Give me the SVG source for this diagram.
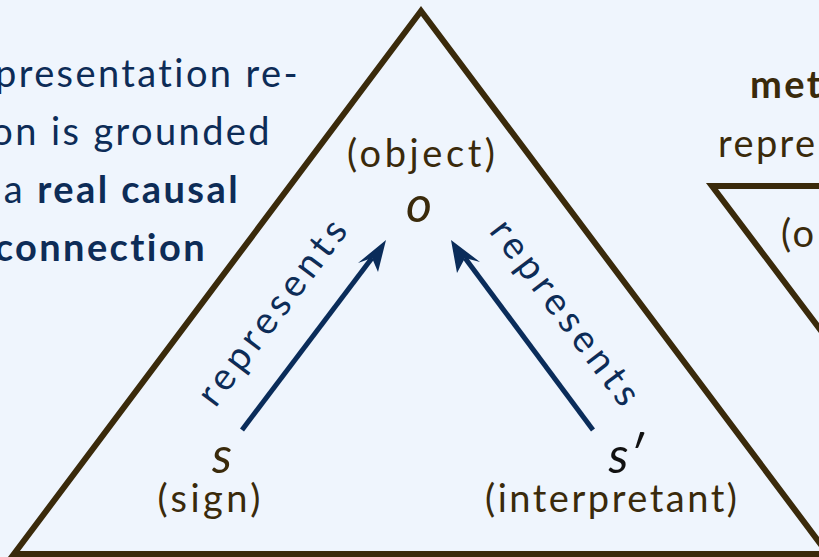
<svg xmlns="http://www.w3.org/2000/svg" width="819" height="557" viewBox="0 0 819 557">
<style>
.bg{fill:#eff5fd}
.tri{fill:none;stroke:#3a2a0b;stroke-width:6;stroke-linejoin:miter}
.para{font-family:Lato,"Liberation Sans",sans-serif;font-size:38px;letter-spacing:2.4px;fill:#0d2c57}
.b{font-weight:bold}
.brown{fill:#3a2a0b}
.lbl{font-family:Lato,"Liberation Sans",sans-serif;font-size:38px;fill:#3a2a0b;text-anchor:middle}
.var{font-family:Lato,"Liberation Sans",sans-serif;font-size:50px;font-style:italic;fill:#3a2a0b;text-anchor:middle}
.rep{font-family:Lato,"Liberation Sans",sans-serif;font-size:38px;fill:#0d2c57;text-anchor:middle}
.arr{stroke:#0a2c5a;stroke-width:5;fill:none}
.head{fill:#0a2c5a}
</style>
<rect class="bg" x="0" y="0" width="819" height="557"/>
<g id="text-left">
<text class="para" x="300" y="87" text-anchor="end">presentation re-</text>
<text class="para" x="272" y="145" text-anchor="end">on is grounded</text>
<text class="para" x="240" y="203" text-anchor="end">a <tspan class="b">real causal</tspan></text>
<text class="para b" x="207" y="261" text-anchor="end">connection</text>
</g>
<g id="triangle">
<polygon class="tri" points="421,11 14,554 828,554"/>
</g>
<g id="triangle-right">
<polygon class="tri" points="712,186 1530,186 1121,729"/>
<text class="para b brown" x="750" y="98">met</text>
<text class="para brown" x="718" y="157">repre</text>
<text class="para brown" x="781" y="247">(o</text>
</g>
<g id="node-object">
<text class="lbl" x="421" y="167" textLength="148">(object)</text>
<text class="var" x="419" y="222">o</text>
</g>
<g id="node-sign">
<text class="var" x="222" y="473">s</text>
<text class="lbl" x="209" y="512" textLength="103">(sign)</text>
</g>
<g id="node-interpretant">
<text class="var" x="626" y="473" style="fill:#111">s′</text>
<text class="lbl" x="611" y="512" textLength="252">(interpretant)</text>
</g>
<g id="connectors">
<line class="arr" x1="242" y1="430" x2="372" y2="258"/>
<path class="head" d="M386,240 L358,263 L372,258 L378,272 Z"/>
<line class="arr" x1="593" y1="430" x2="465" y2="258"/>
<path class="head" d="M451,240 L457,273 L465,258 L480,262 Z"/>
<text class="rep" transform="translate(282,320) rotate(-53)" textLength="222">represents</text>
<text class="rep" transform="translate(555,320) rotate(53)" textLength="222">represents</text>
</g>
</svg>
